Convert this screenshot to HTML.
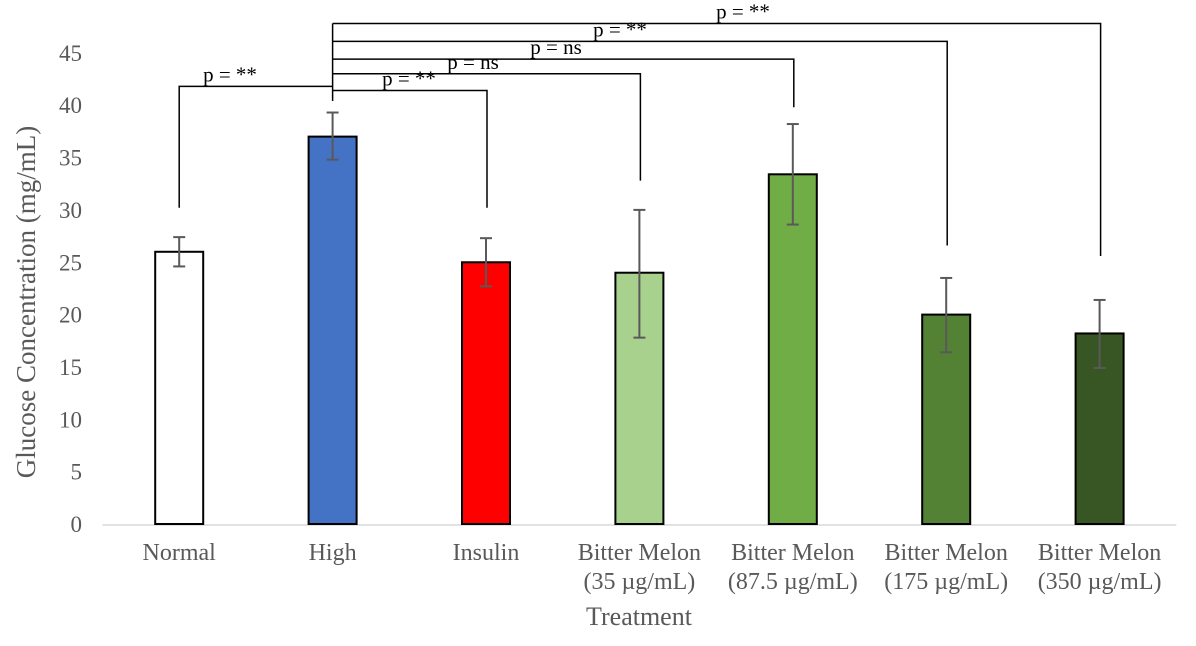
<!DOCTYPE html>
<html><head><meta charset="utf-8">
<style>
html,body{margin:0;padding:0;background:#fff;}
svg{display:block;font-family:"Liberation Serif",serif;}
</style></head>
<body>
<svg id="chart" width="1196" height="646" viewBox="0 0 1196 646" xmlns="http://www.w3.org/2000/svg">
<g id="yaxis"></g>
<g id="bars"></g>
<g id="errs"></g>
<g id="brackets"></g>
<g id="xlabels"></g>
<text x="639" y="625" text-anchor="middle" font-size="26" fill="#595959">Treatment</text>
<text transform="translate(35,302) rotate(-90)" text-anchor="middle" font-size="27" fill="#595959">Glucose Concentration (mg/mL)</text>
</svg>
<script>
const categories=[["Normal"],["High"],["Insulin"],["Bitter Melon","(35 µg/mL)"],["Bitter Melon","(87.5 µg/mL)"],["Bitter Melon","(175 µg/mL)"],["Bitter Melon","(350 µg/mL)"]];
const values=[26,37,25,24,33.4,20,18.2];
const errHigh=[27.4,39.3,27.3,30.0,38.2,23.5,21.4];
const errLow=[24.6,34.8,22.7,17.8,28.6,16.4,14.9];
const colors=["#ffffff","#4472c4","#ff0000","#a9d18e","#70ad47","#548235","#375623"];
const yTicks=[0,5,10,15,20,25,30,35,40,45];
// brackets: [from index, to index, level value, leg-end value at 'to', label]
const brackets=[
 [1,0,41.8,30.2,"p = **"],
 [1,2,41.4,30.2,"p = **"],
 [1,3,43.0,32.8,"p = ns"],
 [1,4,44.4,39.8,"p = ns"],
 [1,5,46.1,26.6,"p = **"],
 [1,6,47.8,25.6,"p = **"]
];
const NS="http://www.w3.org/2000/svg";
const x0=102.5,step=153.4,y0=524,pxPerUnit=10.47,barW=48;
const xC=i=>x0+step*(i+0.5);
const yS=v=>y0-v*pxPerUnit;
function mk(tag,attrs,parent){const e=document.createElementNS(NS,tag);for(const k in attrs)e.setAttribute(k,attrs[k]);parent.appendChild(e);return e;}
const ya=document.getElementById('yaxis');
yTicks.forEach(t=>{
 const tx=mk('text',{x:82,y:yS(t)+8,'text-anchor':'end','font-size':23,fill:'#595959'},ya);
 
 
 tx.textContent=t;
});
const axl=mk('line',{x1:x0,x2:x0+step*7,y1:y0+1,y2:y0+1,stroke:'#d9d9d9','stroke-width':1.5},ya);


const bg=document.getElementById('bars'),eg=document.getElementById('errs'),bk=document.getElementById('brackets'),xl=document.getElementById('xlabels');
values.forEach((v,i)=>{
 const r=mk('rect',{x:xC(i)-barW/2,y:yS(v),width:barW,height:yS(0)-yS(v),fill:colors[i],stroke:'#000','stroke-width':2},bg);
 
 
 const g=mk('g',{stroke:'#595959','stroke-width':2},eg);
 
 
 const c=xC(i);
 mk('line',{x1:c,x2:c,y1:yS(errHigh[i]),y2:yS(errLow[i])},g);
 mk('line',{x1:c-6,x2:c+6,y1:yS(errHigh[i]),y2:yS(errHigh[i])},g);
 mk('line',{x1:c-6,x2:c+6,y1:yS(errLow[i]),y2:yS(errLow[i])},g);
 const t=mk('text',{x:c,y:560,'text-anchor':'middle','font-size':24,fill:'#595959'},xl);
 
 
 categories[i].forEach((ln,j)=>{const s=mk('tspan',{x:c,dy:j?29:0},t);s.textContent=ln;});
});
const hx=xC(1);
const leg=mk('line',{x1:hx,x2:hx,y1:yS(47.8),y2:yS(40.4),stroke:'#000','stroke-width':1.5},bk);


const labelX=[230,0,409,473,556,620,743];
brackets.forEach((b,k)=>{
 const [f,t,lvl,legEnd,label]=b;
 const g=mk('g',{},bk);
 
 
 const ly=yS(lvl),tx=xC(t)+(t>f?1:0);
 mk('path',{d:`M${xC(f)} ${ly} H${tx} V${yS(legEnd)}`,fill:'none',stroke:'#000','stroke-width':1.5},g);
 const txt=mk('text',{x:labelX[t],y:ly-5,'text-anchor':'middle','font-size':21,fill:'#000'},g);
 
 
 txt.textContent=label;
});
</script>
</body></html>
